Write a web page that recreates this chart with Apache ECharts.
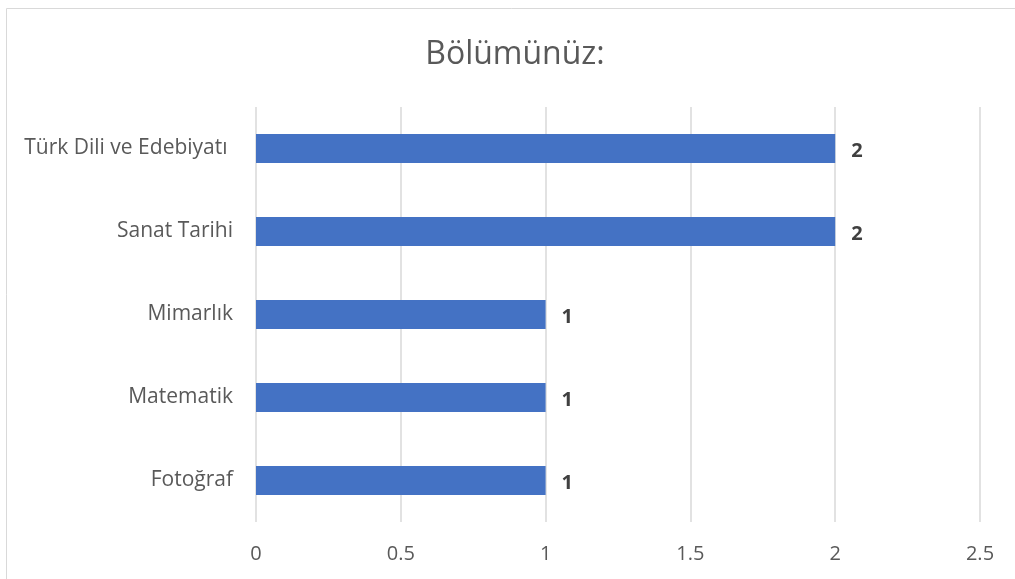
<!DOCTYPE html>
<html>
<head>
<meta charset="utf-8">
<script src="https://cdn.jsdelivr.net/npm/echarts@6/dist/echarts.min.js"></script>
<style>
  html, body { margin: 0; padding: 0; background: #fff; }
  #chart { width: 1015px; height: 579px; }
</style>
</head>
<body>
<div id="chart"></div>
<script>
// the first label carries a trailing space in the source chart
const categories = ['Fotoğraf', 'Matematik', 'Mimarlık', 'Sanat Tarihi', 'Türk Dili ve Edebiyatı '];
const counts = [1, 1, 1, 2, 2];
const axisMin = 0;
const axisMax = 2.5;
const axisStep = 0.5;

const chart = echarts.init(document.getElementById('chart'));

chart.setOption({
  animation: false,
  title: {
    text: 'Bölümünüz:',
    left: 510,
    top: 34,
    textAlign: 'center',
    textStyle: {
      fontFamily: 'Open Sans',
      fontSize: 32,
      fontWeight: 'normal',
      color: '#595959'
    }
  },
  graphic: [{
    type: 'rect',
    shape: { x: 6.5, y: 8.5, width: 1030, height: 620 },
    style: { fill: 'none', stroke: '#d9d9d9', lineWidth: 1 },
    silent: true
  }],
  grid: {
    left: 256,
    right: 35,
    top: 107,
    bottom: 57
  },
  xAxis: {
    type: 'value',
    min: axisMin,
    max: axisMax,
    interval: axisStep,
    axisLine: { show: false },
    axisTick: { show: false },
    axisLabel: {
      margin: 22,
      fontFamily: 'Open Sans',
      fontSize: 20,
      color: '#595959'
    },
    splitLine: { show: true, lineStyle: { color: '#d9d9d9', width: 1.5 } }
  },
  yAxis: {
    type: 'category',
    data: categories,
    axisLine: { show: false },
    axisTick: { show: false },
    axisLabel: {
      margin: 23,
      fontFamily: 'Open Sans',
      fontSize: 21,
      color: '#595959'
    }
  },
  series: [{
    type: 'bar',
    data: counts,
    barWidth: 29,
    itemStyle: { color: '#4472c4' },
    label: {
      show: true,
      position: 'right',
      distance: 16,
      offset: [0, 3],
      fontFamily: 'Open Sans',
      fontSize: 20,
      fontWeight: 'bold',
      color: '#404040'
    }
  }]
});
</script>
</body>
</html>
